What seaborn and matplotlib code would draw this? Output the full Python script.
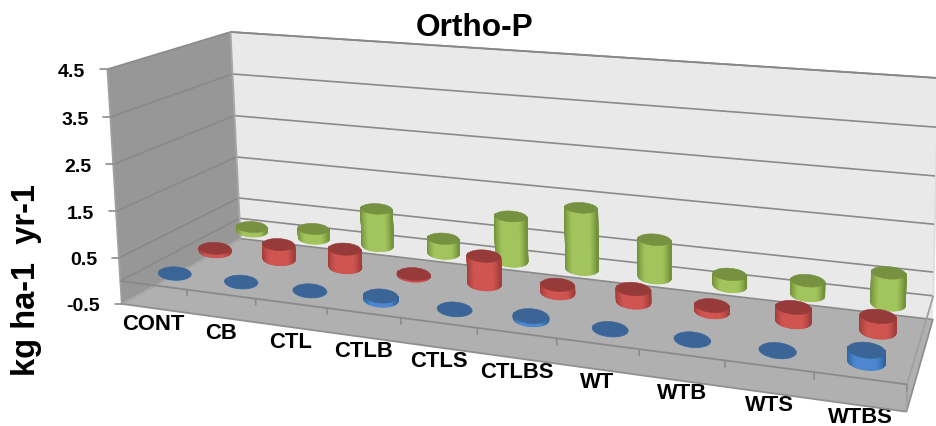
import numpy as np
import pandas as pd
import matplotlib
matplotlib.use('Agg')
import matplotlib.pyplot as plt
from matplotlib.colors import to_rgb
from matplotlib.patches import Polygon
import seaborn as sns

categories = ['CONT', 'CB', 'CTL', 'CTLB', 'CTLS', 'CTLBS', 'WT', 'WTB', 'WTS', 'WTBS']
blue_vals = [0.0, 0.0, 0.0, 0.08, 0.0, 0.06, 0.0, 0.0, 0.0, 0.22]
red_vals = [0.07, 0.33, 0.40, 0.03, 0.60, 0.17, 0.27, 0.12, 0.28, 0.30]
green_vals = [0.10, 0.22, 0.85, 0.33, 1.00, 1.35, 0.82, 0.25, 0.30, 0.65]
value_ticks = [-0.5, 0.5, 1.5, 2.5, 3.5, 4.5]

# camera fit: (x fraction, depth fraction, value) -> pixel position of the chart box
box_world = [(0, 0, -0.5), (0, 0, 4.5), (0, 1, -0.5), (0, 1, 4.5), (1, 1, -0.5), (1, 1, 4.5),
             (1, 0, -0.5), (1, 0, 0), (0, 0, 0), (0.1, 0, 0), (0.2, 0, 0), (0.3, 0, 0),
             (0.4, 0, 0), (0.5, 0, 0), (0.6, 0, 0), (0.7, 0, 0), (0.8, 0, 0), (0.9, 0, 0)]
box_px = [(122, 304), (107, 70), (240, 240), (231, 33), (933, 320), (938, 79),
          (907, 412), (907, 385), (120, 282), (187, 290), (256, 300), (327, 309),
          (401, 319), (477, 329), (557, 340), (638, 351), (725, 362), (814, 373)]


def fit_camera(world, px):
    A, b = [], []
    for (x, d, v), (u, w) in zip(world, px):
        A.append([x, d, v, 1, 0, 0, 0, 0, -u * x, -u * d, -u * v])
        b.append(u)
        A.append([0, 0, 0, 0, x, d, v, 1, -w * x, -w * d, -w * v])
        b.append(w)
    p = np.linalg.lstsq(np.array(A, float), np.array(b, float), rcond=None)[0]
    return np.append(p, 1).reshape(3, 4)


P = fit_camera(box_world, box_px)


def project(x, d, v):
    x, d, v = np.broadcast_arrays(x, d, v)
    pts = P @ np.vstack([x.ravel(), d.ravel(), v.ravel(), np.ones(x.size)])
    return pts[0] / pts[2], pts[1] / pts[2]


sns.set_theme(style='white')
plt.rcParams['font.family'] = ['Liberation Sans', 'DejaVu Sans']

fig = plt.figure(figsize=(9.36, 4.27), dpi=100)
ax = fig.add_axes([0, 0, 1, 1])


def face(corners, color, z):
    xs, ys = project(*np.array(corners, float).T)
    ax.add_patch(Polygon(np.column_stack([xs, ys]), closed=True, fc=color, ec='none', zorder=z))


face([(0, 0, -0.5), (0, 0, 4.5), (0, 1, 4.5), (0, 1, -0.5)], '#979797', 1)
face([(0, 1, -0.5), (0, 1, 4.5), (1, 1, 4.5), (1, 1, -0.5)], '#e9e9e9', 1)
face([(0, 0, -0.5), (0, 1, -0.5), (1, 1, -0.5), (1, 0, -0.5)], '#b0b0b0', 2)

# gridlines on both walls go through seaborn
rows = []
for v in value_ticks + [0]:
    xs, ys = project([0, 0, 1], [0, 1, 1], [v, v, v])
    for i in range(3):
        rows.append({'line': v, 'step': i, 'px': xs[i], 'py': ys[i]})
grid = pd.DataFrame(rows)
sns.lineplot(data=grid, x='px', y='py', units='line', estimator=None, sort=False,
             color='#8a8a8a', lw=1.2, ax=ax, zorder=3, legend=False)


def edge(a, b, color='#8c8c8c', lw=1.3, z=4):
    xs, ys = project(*np.array([a, b], float).T)
    ax.plot(xs, ys, color=color, lw=lw, zorder=z, solid_capstyle='butt')


edge((0, 0, -0.5), (0, 1, -0.5), '#a8a8a8')
edge((0, 0, -0.5), (1, 0, -0.5), '#909090')
edge((1, 0, -0.5), (1, 1, -0.5), '#909090')
edge((0, 0, -0.5), (0, 0, 4.5), '#a0a0a0')
edge((0, 1, -0.5), (0, 1, 4.5), '#a8a8a8')
edge((0, 1, 4.5), (1, 1, 4.5), '#888888')
edge((0, 0, 0), (1, 0, 0), '#8a8a8a')
edge((1, 0, 0), (1, 1, 0), '#a0a0a0')
edge((1, 0, -0.5), (1, 0, 0), '#a0a0a0')
edge((1, 1, 0), (1, 1, 4.5), '#dddddd')
for i in range(1, len(categories) + 1):
    edge((i / 10, 0, 0), (i / 10, 0, -0.14), '#8a8a8a', 1.1)


def mix(a, b, t):
    return tuple(np.array(to_rgb(a)) * (1 - t) + np.array(to_rgb(b)) * t)


def cylinder(cat, depth, value, top, mid, dark, z):
    cx = (cat + 0.5) / len(categories)
    rx, rd = 0.0245 - 0.004 * cx, 0.08
    # shear the footprint so it keeps the flatter look of the Excel cylinders
    x0, _ = project(cx, depth, 0)
    x1, _ = project(cx, depth + rd, 0)
    x2, _ = project(cx + 0.01, depth, 0)
    shear = -0.65 * (x1[0] - x0[0]) / ((x2[0] - x0[0]) / 0.01)
    ang = np.linspace(0, 2 * np.pi, 145)
    xc = cx + rx * np.cos(ang) + shear * np.sin(ang)
    dc = depth + rd * np.sin(ang)
    bx, by = project(xc, dc, 0)
    tx, ty = project(xc, dc, value)
    xmin, xmax = bx.min(), bx.max()
    # side wall as thin strips, only the half facing the viewer
    for i in range(144):
        if np.sin(ang[i]) > 0.25:
            continue
        quad = np.array([[bx[i], by[i]], [bx[i + 1], by[i + 1]], [tx[i + 1], ty[i + 1]], [tx[i], ty[i]]])
        t = ((bx[i] + bx[i + 1]) / 2 - xmin) / (xmax - xmin)
        shade = min(1, 1.9 * (1 - abs(2 * t - 1)) ** 0.8)
        c = mix(dark, mid, shade)
        ax.add_patch(Polygon(quad, closed=True, fc=c, ec=c, lw=0.9, zorder=z))
    ax.add_patch(Polygon(np.column_stack([tx, ty]), closed=True, fc=top, ec=top, lw=0.4, zorder=z + 0.1))


series = [(green_vals, 5 / 6, '#76913f', '#a2c45c', '#71903a', 5),
          (red_vals, 1 / 2, '#963b39', '#d05551', '#a03d3b', 6),
          (blue_vals, 1 / 6, '#3a6596', '#4c87d0', '#2f639f', 7)]
for vals, depth, top, mid, dark, z in series:
    for i, val in enumerate(vals):
        cylinder(i, depth, val, top, mid, dark, z)

# text
for v in value_ticks:
    px, py = project(0, 0, v)
    ax.plot([px[0] - 7, px[0]], [py[0], py[0]], color='#8c8c8c', lw=1.2, zorder=4)
    ax.text(px[0] - 22, py[0] + 2, f'{v:.1f}', ha='right', va='center', fontsize=14,
            fontweight='bold', color='black')

for i, name in enumerate(categories):
    px, py = project((i + 0.5) / len(categories), 0, 0)
    ax.text(px[0], py[0] + 38, name, ha='center', va='center', fontsize=15.8, fontweight='bold',
            color='black')

ax.text(475, 28, 'Ortho-P', ha='center', va='center', fontsize=22.8, fontweight='bold', color='black')
ax.text(27, 280, 'kg ha-1  yr-1', ha='center', va='center', rotation=90, fontsize=23.5,
        fontweight='bold', color='black')

ax.set_xlim(0, 936)
ax.set_ylim(427, 0)
ax.axis('off')
fig.savefig('out.png', dpi=100)
